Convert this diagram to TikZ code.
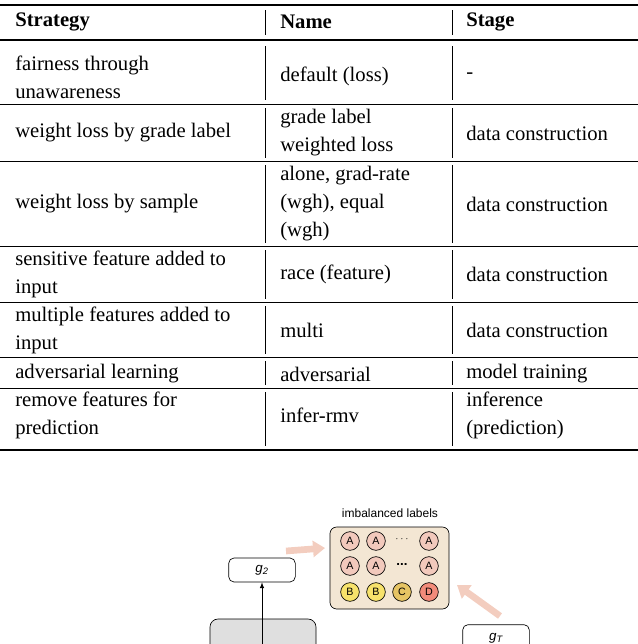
\documentclass[tikz,border=0pt]{standalone}
\usepackage{fontspec}
\setmainfont{Liberation Serif}
\newfontfamily\diagfont{Liberation Sans}
\usetikzlibrary{arrows.meta}
\tikzset{>=latex}
\definecolor{boxbeige}{HTML}{F3E6D3}
\definecolor{labA}{HTML}{F2C9BC}
\definecolor{labB}{HTML}{F7E26B}
\definecolor{labC}{HTML}{E6C463}
\definecolor{labD}{HTML}{F28B7A}
\definecolor{flowpink}{HTML}{F3CDBF}
\tikzset{
  cell/.style={anchor=west, align=left, font=\fontsize{15.5}{21}\selectfont, inner sep=0pt},
  head/.style={cell, font=\fontsize{15.5}{21}\selectfont\bfseries},
  lab/.style={circle, draw, line width=0.5pt, minimum size=14pt, inner sep=0pt, font=\diagfont\footnotesize},
  fn/.style={draw, rounded corners=4pt, line width=0.5pt, minimum width=50pt, minimum height=18pt},
  flow/.style={-{Triangle[length=9pt,width=12pt]}, line width=5pt, flowpink}
}
\def\rowlist{22/Strategy/Name/Stage}
\begin{document}
\begin{tikzpicture}[x=0.75pt, y=-0.75pt]
\useasboundingbox (0,0) rectangle (638,644);

% table rules
\draw[line width=1.2pt] (0,5) -- (638,5);
\draw[line width=0.9pt] (0,40) -- (638,40);
\foreach \y in {104,161,246,302,357,388}{
  \draw[line width=0.4pt] (0,\y) -- (638,\y);
}
\draw[line width=1.2pt] (0,450) -- (638,450);
\foreach \a/\b in {10/35,46/100,108/158,165/243,250/299,306/354,361/385,392/446}{
  \draw[line width=0.4pt] (265,\a) -- (265,\b);
  \draw[line width=0.4pt] (452,\a) -- (452,\b);
}

% header
\node[head] (hstrat) at (15,22) {Strategy};
\node[head] (hname) at (280,22) {Name};
\node[head] (hstage) at (466,22) {Stage};

% rows
\node[cell] (s1) at (15,77) {fairness through\\unawareness};
\node[cell] (n1) at (280,76) {default (loss)};
\node[cell] (g1) at (466,76) {-};
\node[cell] (s2) at (15,133) {weight loss by grade label};
\node[cell] (n2) at (280,133) {grade label\\weighted loss};
\node[cell] (g2r) at (466,133) {data construction};
\node[cell] (s3) at (15,204) {weight loss by sample};
\node[cell] (n3) at (280,204) {alone, grad-rate\\(wgh), equal\\(wgh)};
\node[cell] (g3) at (466,204) {data construction};
\node[cell] (s4) at (15,274) {sensitive feature added to\\input};
\node[cell] (n4) at (280,274) {race (feature)};
\node[cell] (g4) at (466,274) {data construction};
\node[cell] (s5) at (15,330) {multiple features added to\\input};
\node[cell] (n5) at (280,330) {multi};
\node[cell] (g5) at (466,330) {data construction};
\node[cell] (s6) at (15,374) {adversarial learning};
\node[cell] (n6) at (280,374) {adversarial};
\node[cell] (g6) at (466,374) {model training};
\node[cell] (s7) at (15,415) {remove features for\\prediction};
\node[cell] (n7) at (280,415) {infer-rmv};
\node[cell] (g7) at (466,415) {inference\\(prediction)};

% diagram
\node[font=\diagfont\small] (imbtitle) at (390,513) {imbalanced labels};
\draw[fill=boxbeige, rounded corners=5pt, line width=0.5pt] (330,527) rectangle (449,609);
\coordinate (boxW) at (325,548);
\coordinate (boxSE) at (457,585);
\foreach \x/\n in {350/a1,376/a2,429/a4}{
  \node[lab, fill=labA] (\n) at (\x,541) {A};
  \node[lab, fill=labA] (b\n) at (\x,566) {A};
}
\node[font=\diagfont\scriptsize] (dots1) at (402,539) {$\cdots$};
\node[font=\diagfont\bfseries] (dots2) at (402,564) {...};
\node[lab, fill=labB] (lb1) at (350,592) {B};
\node[lab, fill=labB] (lb2) at (376,592) {B};
\node[lab, fill=labC] (lc) at (402,592) {C};
\node[lab, fill=labD] (ld) at (429,592) {D};

\node[fn] (gtwo) at (262,570) {\diagfont\itshape g\textsubscript{2}};
\draw[fill=gray!25, rounded corners=6pt, line width=0.5pt] (210,619) rectangle (316,660);
\coordinate (enc) at (262,660);
\draw[->, line width=0.5pt] (enc) -- (gtwo.south);
\node[fn, minimum width=50pt, minimum height=20pt] (gT) at (496,638) {\diagfont\itshape g\textsubscript{T}};
\coordinate (fromT) at (500,616);
\coordinate (fromtwo) at (286,551);
\draw[flow] (fromtwo) -- (boxW);
\draw[flow] (fromT) -- (boxSE);
\end{tikzpicture}
\end{document}
